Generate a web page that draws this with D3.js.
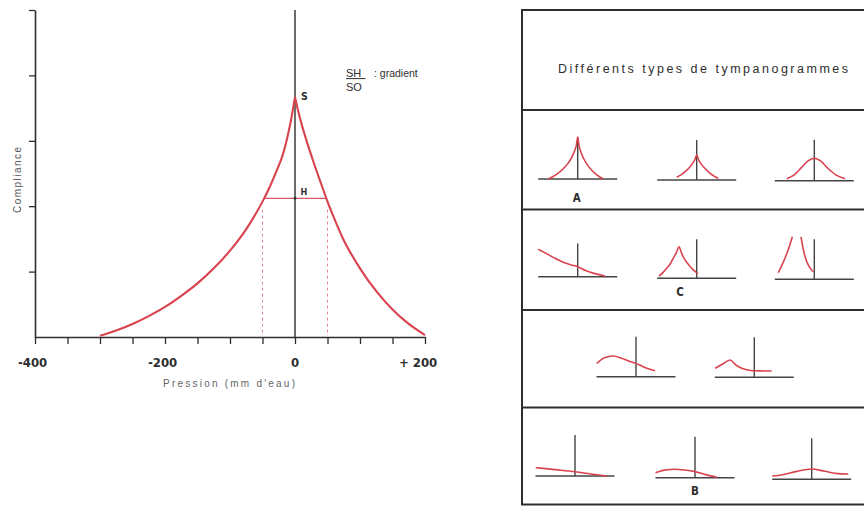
<!DOCTYPE html>
<html>
<head>
<meta charset="utf-8">
<script src="https://cdn.jsdelivr.net/npm/d3@7"></script>
<style>
  html, body { margin: 0; padding: 0; background: #fff; }
  svg { display: block; }
</style>
</head>
<body>
<svg id="chart" width="864" height="506"></svg>
<script>
// ---------- main tympanogram data ----------
const mainLeftX  = [-300, -275, -250, -225, -200, -175, -150, -125, -100, -75, -50, -40, -30, -25, -20, -15, -10, -5, 0];
const mainLeftY  = [0.02, 0.10, 0.20, 0.32, 0.46, 0.63, 0.82, 1.05, 1.32, 1.65, 2.07, 2.27, 2.50, 2.62, 2.75, 2.92, 3.13, 3.38, 3.67];
const mainRightX = [0, 5, 10, 15, 20, 25, 30, 40, 50, 60, 75, 100, 125, 150, 175, 200];
const mainRightY = [3.67, 3.45, 3.26, 3.09, 2.93, 2.78, 2.63, 2.35, 2.07, 1.82, 1.48, 1.05, 0.70, 0.42, 0.20, 0.03];
const hLevel = 2.12;
const hSpan = [-47, 47];
const dashX = [-50, 50];
const dashTop = [2.07, 2.07];
const xTickValues = [-400, -350, -300, -250, -200, -150, -100, -50, 0, 50, 100, 150, 200];
const xLabelValues = [-400, -200, 0, 200];
const xLabels = ["-400", "-200", "0", "+ 200"];
const yTickValues = [1, 2, 3, 4, 5];
const xTitle = "Pression (mm d'eau)";
const yTitle = "Compliance";
const panelTitle = "Différents types de tympanogrammes";

// ---------- small tympanograms (pressure, compliance) ----------
const miniA1 = [[-223,0],[-190,0.22],[-150,0.55],[-110,1.0],[-75,1.5],[-45,2.1],[-25,2.7],[-10,3.3],[0,4.1],
                [10,3.25],[25,2.6],[45,2.0],[75,1.35],[110,0.8],[150,0.35],[194,0]];
const miniA2 = [[-152,0.26],[-120,0.5],[-90,0.8],[-60,1.15],[-35,1.55],[-15,1.95],[0,2.44],
                [15,1.95],[35,1.55],[65,1.1],[100,0.68],[135,0.35],[164,0.16]];
const miniA3 = [[-210,0.2],[-150,0.6],[-100,1.25],[-50,1.9],[0,2.19],[50,1.9],[100,1.25],[160,0.6],[233,0.2]];
const miniC1 = [[-300,2.67],[-230,2.2],[-172,1.8],[-100,1.35],[-50,1.15],[0,0.98],[60,0.6],[130,0.3],[207,0.07]];
const miniC2 = [[-286,0.22],[-255,0.58],[-228,0.98],[-200,1.42],[-178,1.95],[-155,2.5],[-134,3.08],
                [-115,2.45],[-89,1.79],[-60,1.3],[-38,0.98],[-15,0.7],[8,0.49]];
const miniC3 = [[-273,0.64],[-245,1.4],[-215,2.3],[-190,3.2],[-167,4.15],null,[-101,4.15],[-85,3.0],[-65,2.0],[-40,1.25],[-8,0.74]];
const miniM1 = [[-298,1.3],[-240,1.85],[-172,2.02],[-110,1.8],[-50,1.5],[0,1.3],[50,1.0],[100,0.75],[144,0.59]];
const miniM2 = [[-298,0.88],[-240,1.3],[-184,1.69],[-140,1.2],[-90,0.85],[-40,0.68],[0,0.64],[60,0.62],[132,0.61]];
const miniB1 = [[-298,0.81],[-150,0.62],[0,0.42],[120,0.2],[241,0.0]];
const miniB2 = [[-300,0.49],[-230,0.74],[-152,0.82],[-80,0.75],[0,0.59],[80,0.3],[165,0.04]];
const miniB3 = [[-300,0.32],[-220,0.45],[-120,0.75],[0,1.0],[100,0.78],[200,0.55],[278,0.52]];
const rowLabels = ["A", "C", "B"];

// ---------- layout ----------
const RED = "#d8434f";
const INK = "#2e2e2e";
const svg = d3.select("#chart");

const x = d3.scaleLinear().domain([-400, 200]).range([35, 425]);
const y = d3.scaleLinear().domain([0, 5]).range([337, 10]);

// axes
const gx = svg.append("g").attr("transform", `translate(0,${y(0)})`)
  .call(d3.axisBottom(x).tickValues(xTickValues).tickSize(7).tickSizeOuter(0).tickFormat(""));
const gy = svg.append("g").attr("transform", `translate(${x(-400)},0)`)
  .call(d3.axisLeft(y).tickValues(yTickValues).tickSize(6).tickSizeOuter(0).tickFormat(""));
[gx, gy].forEach(g => {
  g.selectAll("path.domain").attr("stroke", INK).attr("stroke-width", 1.6);
  g.selectAll(".tick line").attr("stroke", INK).attr("stroke-width", 1.3);
});

// zero vertical line
svg.append("line").attr("x1", x(0)).attr("x2", x(0)).attr("y1", y(0)).attr("y2", y(5))
  .attr("stroke", INK).attr("stroke-width", 1.4);

// tick labels: digits centred on the tick, sign hanging left
xLabelValues.forEach((v, i) => {
  const lab = xLabels[i];
  const m = lab.match(/^([^0-9]*)(.*)$/);
  const t = svg.append("text")
    .attr("y", 367)
    .attr("font-family", "'DejaVu Sans Condensed', 'DejaVu Sans', sans-serif")
    .attr("font-stretch", "condensed")
    .attr("font-weight", "bold")
    .attr("font-size", 13)
    .attr("fill", INK)
    .text(lab);
  const n = t.node();
  const sw = m[1].length ? n.getSubStringLength(0, m[1].length) : 0;
  const dw = n.getSubStringLength(m[1].length, m[2].length);
  t.attr("x", x(v) - sw - dw / 2);
});

// axis titles
svg.append("text").attr("x", 163).attr("y", 387)
  .attr("font-family", "'Liberation Sans', Arial, sans-serif").attr("font-size", 10)
  .attr("fill", "#666").attr("textLength", 132).attr("lengthAdjust", "spacing")
  .text(xTitle);
svg.append("text").attr("transform", "translate(21,213) rotate(-90)")
  .attr("font-family", "'Liberation Sans', Arial, sans-serif").attr("font-size", 10)
  .attr("fill", "#555").attr("textLength", 66).attr("lengthAdjust", "spacing")
  .text(yTitle);

// H line and dashed guides
svg.append("line").attr("x1", x(hSpan[0])).attr("x2", x(hSpan[1]))
  .attr("y1", y(hLevel)).attr("y2", y(hLevel))
  .attr("stroke", "#d45a66").attr("stroke-width", 1.1);
dashX.forEach((dx, i) => {
  svg.append("line").attr("x1", x(dx)).attr("x2", x(dx))
    .attr("y1", y(dashTop[i]) + 8).attr("y2", y(0) - 1)
    .attr("stroke", "#e58a94").attr("stroke-width", 1).attr("stroke-dasharray", "3,3");
});
svg.append("circle").attr("cx", x(0)).attr("cy", y(hLevel)).attr("r", 1.4).attr("fill", INK);

// main curve (two branches meeting in a cusp)
const mainLine = d3.line().x(d => x(d[0])).y(d => y(d[1])).curve(d3.curveMonotoneX);
[[mainLeftX, mainLeftY], [mainRightX, mainRightY]].forEach(([xs, ys]) => {
  svg.append("path").datum(xs.map((v, i) => [v, ys[i]]))
    .attr("d", mainLine).attr("fill", "none").attr("stroke", RED).attr("stroke-width", 2.1)
    .attr("stroke-linejoin", "round");
});

// annotations
const annFont = "'DejaVu Sans Condensed', 'DejaVu Sans', sans-serif";
svg.append("text").attr("x", 301).attr("y", 100).attr("font-family", annFont).attr("font-stretch", "condensed")
  .attr("font-weight", "bold").attr("font-size", 10.5).attr("fill", INK).text("S");
svg.append("text").attr("x", 300.5).attr("y", 194.5).attr("font-family", annFont).attr("font-stretch", "condensed")
  .attr("font-weight", "bold").attr("font-size", 9).attr("fill", INK).text("H");
svg.append("text").attr("x", 346).attr("y", 76.5).attr("font-family", "'Liberation Sans', Arial, sans-serif")
  .attr("font-size", 11).attr("fill", INK).text("SH");
svg.append("line").attr("x1", 346).attr("x2", 365.5).attr("y1", 78.6).attr("y2", 78.6)
  .attr("stroke", INK).attr("stroke-width", 1);
svg.append("text").attr("x", 346).attr("y", 90.5).attr("font-family", "'Liberation Sans', Arial, sans-serif")
  .attr("font-size", 11).attr("fill", INK).text("SO");
svg.append("text").attr("x", 374).attr("y", 77).attr("font-family", "'Liberation Sans', Arial, sans-serif")
  .attr("font-size", 10.5).attr("fill", INK).text(": gradient");

// ---------- right panel ----------
const panelX = 522, panelRight = 880;
const rowEdges = [10, 110, 209.5, 310, 407.5, 504.5];
svg.append("rect").attr("x", panelX).attr("y", rowEdges[0])
  .attr("width", panelRight - panelX).attr("height", rowEdges[5] - rowEdges[0])
  .attr("fill", "none").attr("stroke", INK).attr("stroke-width", 2);
rowEdges.slice(1, 5).forEach(e => {
  svg.append("line").attr("x1", panelX).attr("x2", panelRight).attr("y1", e).attr("y2", e)
    .attr("stroke", INK).attr("stroke-width", 2);
});
svg.append("text").attr("x", 558).attr("y", 73)
  .attr("font-family", "'Liberation Sans', Arial, sans-serif").attr("font-size", 12.5)
  .attr("fill", INK).attr("textLength", 290).attr("lengthAdjust", "spacing")
  .text(panelTitle);

const mx = d3.scaleLinear().domain([-300, 300]).range([-39.5, 39.5]);
const my = d3.scaleLinear().domain([0, 4]).range([0, -41]);
const miniLine = d3.line().defined(d => d !== null).x(d => mx(d[0])).y(d => my(d[1])).curve(d3.curveMonotoneX);

const minis = [
  { data: miniA1, zx: 577.7, by: 179.0, vh: 4.1 },
  { data: miniA2, zx: 696.7, by: 180.0, vh: 3.9 },
  { data: miniA3, zx: 814.3, by: 180.7, vh: 4.0 },
  { data: miniC1, zx: 577.7, by: 276.7, vh: 3.25 },
  { data: miniC2, zx: 696.7, by: 278.3, vh: 3.8 },
  { data: miniC3, zx: 814.3, by: 279.3, vh: 3.9 },
  { data: miniM1, zx: 636.0, by: 376.7, vh: 3.9 },
  { data: miniM2, zx: 754.3, by: 377.3, vh: 3.9 },
  { data: miniB1, zx: 575.0, by: 476.0, vh: 4.0 },
  { data: miniB2, zx: 695.0, by: 477.7, vh: 4.0 },
  { data: miniB3, zx: 811.7, by: 479.3, vh: 4.0 }
];
minis.forEach(m => {
  const g = svg.append("g").attr("transform", `translate(${m.zx},${m.by})`);
  g.append("line").attr("x1", mx(-300)).attr("x2", mx(300)).attr("y1", 0).attr("y2", 0)
    .attr("stroke", "#444").attr("stroke-width", 1.4);
  g.append("line").attr("x1", 0).attr("x2", 0).attr("y1", 0).attr("y2", my(m.vh))
    .attr("stroke", "#444").attr("stroke-width", 1.4);
  g.append("path").datum(m.data).attr("d", miniLine)
    .attr("fill", "none").attr("stroke", RED).attr("stroke-width", 1.6).attr("stroke-linejoin", "round");
});

const labelPos = [[576.7, 201.5], [680, 296], [695, 494.5]];
rowLabels.forEach((l, i) => {
  svg.append("text").attr("x", labelPos[i][0]).attr("y", labelPos[i][1])
    .attr("text-anchor", "middle").attr("font-family", annFont).attr("font-stretch", "condensed")
    .attr("font-weight", "bold").attr("font-size", 11.5).attr("fill", INK).text(l);
});
</script>
</body>
</html>
